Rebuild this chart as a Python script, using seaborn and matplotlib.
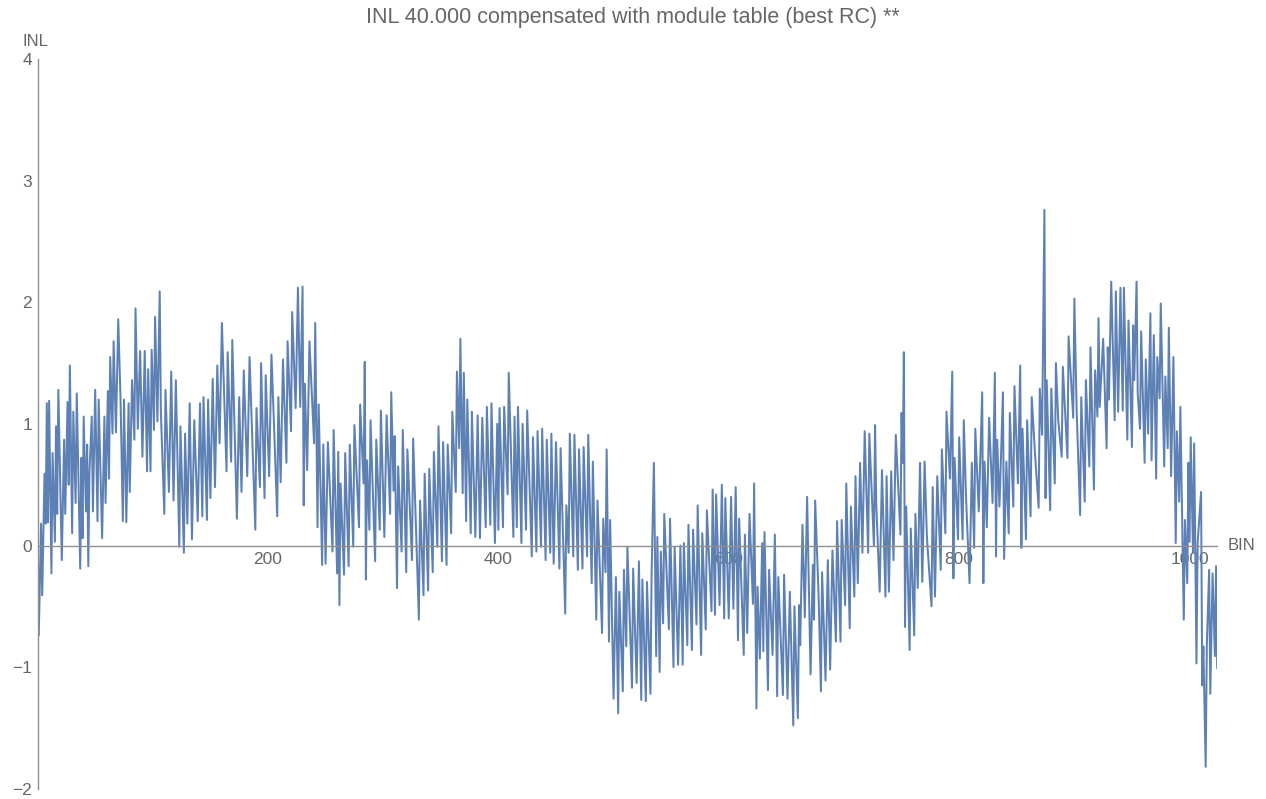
import numpy as np
import pandas as pd
import matplotlib
matplotlib.use("Agg")
import matplotlib.pyplot as plt
from matplotlib.ticker import FixedLocator, MultipleLocator
import seaborn as sns

# INL per BIN (turning points of the trace), split into five stretches
bin_a = [0, 1, 3, 4, 6, 7, 8, 9, 10, 12, 13, 15, 16, 17, 18, 21, 23, 24, 26, 27, 28, 30, 31, 33, 34,
         37, 38, 39, 40, 42, 43, 44, 45, 47, 48, 50, 52, 53, 56, 58, 59, 61, 62, 63, 65, 66, 68, 70,
         72, 74, 75, 77, 79, 80, 82, 84, 85, 87, 89, 91, 93, 95, 96, 98, 99, 101, 102, 104, 106, 107,
         110, 111, 114, 116, 118, 120, 123, 124, 127, 128, 130, 132, 134, 136, 139, 141, 143, 144,
         147, 148, 150, 152, 154, 156, 158, 160, 164, 165, 168, 169, 173, 175, 177, 179, 182, 184,
         186, 189, 190, 193, 194, 197, 198, 201]
inl_a = [0.18, -0.74, 0.18, -0.41, 0.59, 0.18, 1.17, 0.19, 1.19, -0.23, 0.76, 0.03, 0.98, 0.26, 1.28,
         -0.12, 0.87, 0.26, 1.18, 0.50, 1.48, 0.10, 1.10, 0.35, 1.25, -0.19, 0.72, 0.06, 1.06, 0.28,
         0.83, -0.17, 0.60, 1.06, 0.28, 1.28, 0.20, 1.20, 0.06, 1.06, 0.35, 1.27, 0.55, 1.55, 0.92,
         1.68, 0.93, 1.86, 1.20, 0.20, 1.20, 0.19, 1.17, 0.44, 1.36, 0.87, 1.95, 0.96, 1.60, 0.73,
         1.60, 0.61, 1.45, 0.61, 1.61, 0.95, 1.88, 1.02, 2.09, 1.10, 0.26, 1.28, 0.44, 1.43, 0.37,
         1.36, -0.01, 0.98, -0.06, 0.92, 0.18, 1.17, 0.05, 1.03, 0.20, 1.17, 0.24, 1.22, 0.21, 1.20,
         0.39, 1.37, 0.48, 1.48, 0.84, 1.83, 0.61, 1.59, 0.69, 1.69, 0.22, 1.22, 0.44, 1.44, 0.57,
         1.55, 0.98, 0.13, 1.13, 0.48, 1.50, 0.39, 1.40, 0.57]

bin_b = [203, 205, 208, 209, 211, 213, 216, 217, 220, 221, 224, 226, 228, 230, 231, 232, 234, 236,
         240, 241, 243, 244, 247, 248, 250, 252, 256, 257, 260, 261, 262, 263, 266, 267, 270, 271,
         274, 275, 279, 280, 283, 284, 285, 286, 288, 289, 293, 294, 297, 298, 301, 303, 306, 307,
         309, 310, 312, 313, 316, 317, 320, 321, 325, 326, 328, 331, 332, 335, 336, 339, 340, 343,
         344, 347, 348, 351, 352, 355, 356, 359, 360, 363, 364, 366, 367, 369, 370, 372, 373, 376,
         377, 380, 382, 384, 386, 389, 390, 393, 394, 397, 399, 400, 401, 404, 405, 408, 409]
inl_b = [1.57, 1.05, 0.24, 1.22, 0.52, 1.53, 0.68, 1.68, 0.94, 1.92, 1.13, 2.12, 1.14, 2.13, 0.33,
         1.33, 0.62, 1.68, 0.84, 1.83, 0.15, 1.16, -0.16, 0.83, -0.15, 0.85, -0.05, 0.95, -0.23,
         0.77, -0.49, 0.51, -0.24, 0.76, -0.17, 0.83, -0.01, 0.99, 0.15, 1.16, 0.51, 1.51, -0.28,
         0.70, 0.13, 1.03, -0.13, 0.87, 0.13, 1.11, 0.07, 1.07, 0.26, 1.26, 0.45, 0.90, -0.35, 0.65,
         -0.05, 0.95, -0.22, 0.79, -0.12, 0.88, 0.28, -0.61, 0.37, -0.41, 0.59, -0.37, 0.63, -0.22,
         0.77, -0.01, 0.98, -0.13, 0.85, -0.16, 0.83, 0.10, 1.10, 0.44, 1.43, 0.80, 1.70, 0.43,
         1.42, 0.20, 1.20, 0.10, 1.10, 0.07, 1.07, 0.06, 1.05, 0.15, 1.14, 0.17, 1.17, 0.02, 1.00,
         0.13, 1.13, 0.15, 1.14, 0.42, 1.42]

bin_c = [413, 414, 416, 417, 420, 421, 424, 425, 429, 430, 433, 434, 437, 438, 441, 442, 445, 446,
         448, 450, 453, 454, 458, 459, 461, 462, 465, 466, 469, 470, 473, 474, 477, 478, 481, 482,
         485, 486, 490, 491, 493, 494, 496, 497, 500, 502, 504, 505, 508, 509, 511, 512, 516, 517,
         520, 522, 524, 525, 528, 529, 532, 533, 535, 537, 538, 540, 541, 543, 544, 548, 549, 552,
         553, 556, 558, 560, 561, 564, 565, 568, 569, 572, 573, 576, 577, 580, 581, 585, 586, 588,
         589, 592, 594, 596, 597, 600, 602, 604, 606, 608, 609, 613, 614, 616, 618]
inl_c = [0.07, 1.06, 0.15, 1.14, 0.02, 1.00, 0.13, 1.11, -0.09, 0.89, -0.05, 0.94, -0.01, 0.96,
         -0.12, 0.87, -0.06, 0.92, -0.15, 0.85, -0.19, 0.80, -0.56, 0.33, -0.06, 0.92, -0.09, 0.91,
         -0.20, 0.79, -0.19, 0.81, -0.09, 0.91, -0.31, 0.69, -0.61, 0.37, -0.72, 0.22, -0.22, 0.79,
         -0.79, 0.21, -1.26, -0.26, -1.38, -0.38, -1.20, -0.20, -0.83, -0.01, -1.17, -0.19, -1.13,
         -0.13, -1.27, -0.28, -1.28, -0.30, -1.22, -0.23, 0.68, -0.91, 0.07, -1.04, -0.05, -0.64,
         0.26, -0.69, 0.22, -1.00, -0.01, -0.98, 0.00, -0.98, 0.02, -0.82, 0.17, -0.86, 0.13, -0.65,
         0.33, -0.90, 0.10, -0.69, 0.29, -0.54, 0.46, -0.57, 0.42, -0.49, 0.50, -0.60, 0.39, -0.60,
         0.40, -0.52, 0.48, -0.78, 0.22, -0.90, 0.09, -0.72, 0.26]

bin_d = [621, 622, 624, 625, 627, 629, 630, 631, 634, 635, 638, 640, 642, 643, 647, 648, 651, 653,
         656, 657, 660, 661, 662, 664, 666, 668, 671, 673, 674, 675, 678, 680, 681, 684, 686, 688,
         690, 693, 694, 697, 698, 701, 702, 705, 706, 709, 710, 712, 714, 716, 718, 721, 722, 726,
         727, 728, 731, 733, 736, 737, 739, 741, 743, 745, 749, 750, 751, 752, 753, 754, 757, 758,
         761, 762, 764, 766, 768, 770, 772, 776, 777, 779, 781, 784, 785, 788, 789, 792, 794, 795,
         796, 799, 800, 803, 804, 806, 809, 811, 813, 814, 817, 820, 821, 822, 824, 826]
inl_d = [-0.48, 0.51, -1.34, -0.34, -0.93, 0.02, -0.87, 0.11, -1.19, -0.20, -0.90, 0.09, -1.24,
         -0.26, -1.23, -0.24, -1.26, -0.38, -1.48, -0.50, -1.42, -0.49, -0.82, 0.17, -0.59, 0.40,
         -1.06, -0.16, -0.61, 0.37, -0.42, -1.20, -0.22, -1.11, -0.12, -1.02, -0.04, -0.79, 0.20,
         -0.79, 0.21, -0.49, 0.51, -0.68, 0.32, -0.42, 0.57, -0.31, 0.68, -0.06, 0.94, -0.06, 0.92,
         0.00, 0.99, 0.35, -0.38, 0.62, -0.42, 0.57, -0.38, 0.61, -0.12, 0.91, 0.09, 1.09, 0.68,
         1.59, -0.67, 0.32, -0.86, 0.14, -0.74, 0.26, -0.35, 0.68, -0.30, 0.69, 0.07, -0.50, 0.48,
         -0.42, 0.57, -0.20, 0.79, 0.10, 1.10, 0.55, 1.43, -0.27, 0.72, 0.05, 0.89, 0.05, 1.03,
         0.39, -0.31, 0.68, -0.02, 0.96, 0.28, 1.26, -0.31, 0.69, 0.15, 1.05]

bin_e = [829, 831, 832, 833, 835, 838, 839, 841, 843, 844, 847, 848, 851, 853, 854, 855, 858, 859,
         862, 863, 866, 869, 870, 872, 874, 875, 876, 879, 880, 883, 884, 886, 889, 890, 894, 895,
         899, 900, 902, 905, 906, 909, 910, 913, 914, 917, 918, 920, 921, 922, 925, 928, 929, 930,
         932, 935, 936, 938, 940, 942, 943, 946, 947, 950, 951, 952, 954, 955, 957, 958, 961, 962,
         964, 966, 967, 969, 971, 972, 974, 975, 978, 979, 981, 982, 984, 986, 988, 989, 991, 992,
         995, 996, 998, 999, 1000, 1001, 1003, 1004, 1006, 1007, 1010, 1011, 1012, 1014, 1015,
         1017, 1018, 1020, 1022, 1023, 1024]
inl_e = [0.35, 1.42, -0.09, 0.87, 0.32, 1.26, -0.11, 0.69, 0.10, 1.09, 0.32, 1.31, 0.51, 1.48,
         -0.02, 0.96, 0.05, 1.03, 0.24, 1.22, 0.73, 0.31, 1.29, 0.91, 2.76, 0.39, 1.36, 0.29, 1.29,
         0.51, 1.50, 1.03, 0.73, 1.47, 0.72, 1.72, 1.05, 2.03, 1.11, 0.25, 1.22, 0.36, 1.36, 0.65,
         1.63, 0.46, 1.44, 1.06, 1.87, 1.14, 1.70, 0.80, 1.63, 1.20, 2.17, 1.03, 2.09, 1.10, 2.12,
         1.11, 2.12, 0.87, 1.85, 0.81, 1.81, 1.36, 2.17, 1.25, 0.96, 1.76, 0.68, 1.53, 0.92, 1.91,
         0.70, 1.73, 0.55, 1.55, 1.21, 1.99, 0.65, 1.39, 0.80, 1.79, 0.57, 1.55, 0.02, 0.94, 0.36,
         1.14, -0.61, 0.21, -0.31, 0.68, 0.03, 0.89, -0.06, 0.84, -0.97, 0.02, 0.44, -1.15, -0.83,
         -1.82, -0.82, -0.20, -1.22, -0.23, -0.91, -0.17, -1.01]

y_major = [-2, -1, 0, 1, 2, 3, 4]
x_major = [200, 400, 600, 800, 1000]

title_text = "INL 40.000 compensated with module table (best RC) **"

df = pd.DataFrame({
    "BIN": bin_a + bin_b + bin_c + bin_d + bin_e,
    "INL": inl_a + inl_b + inl_c + inl_d + inl_e,
})

sns.set_theme(style="white")
plt.rcParams["font.family"] = ["Liberation Sans", "DejaVu Sans"]

axis_grey = "#8f8f8f"
text_grey = "#666666"
line_blue = "#5E81B5"

fig = plt.figure(figsize=(12.66, 7.99), dpi=100)
ax = fig.add_axes([37.6 / 1266, 1 - 788.7 / 799, (1217.2 - 37.6) / 1266, (788.7 - 59.1) / 799])

sns.lineplot(data=df, x="BIN", y="INL", ax=ax, color=line_blue, linewidth=1.45,
             estimator=None, sort=False)

ax.set_xlim(0, 1024)
ax.set_ylim(-2, 4)
ax.set_xlabel("")
ax.set_ylabel("")

for side in ("top", "right"):
    ax.spines[side].set_visible(False)
ax.spines["bottom"].set_position(("data", 0))
ax.spines["left"].set_position(("data", 0))
for side in ("bottom", "left"):
    ax.spines[side].set_color(axis_grey)
    ax.spines[side].set_linewidth(1.0)

ax.xaxis.set_major_locator(FixedLocator(x_major))
ax.xaxis.set_minor_locator(MultipleLocator(50))
ax.yaxis.set_major_locator(FixedLocator(y_major))
ax.yaxis.set_minor_locator(MultipleLocator(0.2))
ax.set_yticklabels([f"{v}".replace("-", "\u2212") for v in y_major])

ax.tick_params(axis="both", which="both", direction="in", color=axis_grey,
               labelcolor=text_grey, labelsize=12.5)
ax.tick_params(axis="both", which="major", length=4, width=0.9)
ax.tick_params(axis="both", which="minor", length=2.2, width=0.7)
ax.tick_params(axis="x", which="major", pad=5)
ax.tick_params(axis="y", which="major", pad=4)
ax.grid(False)

fig.text(0.5, 1 - 18 / 799, title_text, ha="center", va="center",
         fontsize=15.5, color="#666666")
fig.text(23 / 1266, 1 - 41 / 799, "INL", ha="left", va="center",
         fontsize=12, color=text_grey)
fig.text(1228 / 1266, 1 - 546 / 799, "BIN", ha="left", va="center",
         fontsize=12, color=text_grey)

fig.savefig("out.png", dpi=100)
